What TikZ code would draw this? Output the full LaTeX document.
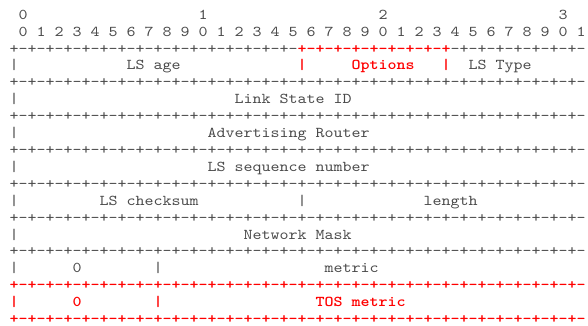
\documentclass[tikz,border=0pt]{standalone}
\usepackage{fontspec}
% Typewriter face, widened so that one character cell is 9pt at 15pt size
\newfontfamily\pktmono{lmmono10-regular}[Extension=.otf, BoldFont=lmmonolt10-bold, FakeStretch=1.1429]
\definecolor{ink}{HTML}{4A4A4A}
\definecolor{hl}{HTML}{FF0000}
\tikzset{
  cell/.style={anchor=base west, inner sep=0pt, outer sep=0pt},
  plain/.style={cell, text=ink, font=\pktmono\fontsize{15}{17}\selectfont},
  hilite/.style={cell, text=hl, font=\pktmono\bfseries\fontsize{15}{17}\selectfont},
}
% \pktseg{style}{name}{column}{line}{text}
\newcommand\pktseg[5]{\node[#1] (#2) at ({9.5+9*#3},{19.3+16.9*#4}) {#5};}
% border line, columns 0 to 63
\newcommand\pktline{+-+-+-+-+-+-+-+-+-+-+-+-+-+-+-+-+-+-+-+-+-+-+-+-+-+-+-+-+-+-+-+-}
\begin{document}
\begin{tikzpicture}[x=1pt,y=-1pt]
\useasboundingbox (0,0) rectangle (588,326);
% bit numbering
\pktseg{plain}{h0}{1}{0}{0}
\pktseg{plain}{h1}{21}{0}{1}
\pktseg{plain}{h2}{41}{0}{2}
\pktseg{plain}{h3}{61}{0}{3}
\pktseg{plain}{bits}{1}{1}{0 1 2 3 4 5 6 7 8 9 0 1 2 3 4 5 6 7 8 9 0 1 2 3 4 5 6 7 8 9 0 1}
% first word
\pktseg{plain}{b2a}{0}{2}{+-+-+-+-+-+-+-+-+-+-+-+-+-+-+-+-}
\pktseg{hilite}{b2b}{32}{2}{+-+-+-+-+-+-+-+-+}
\pktseg{plain}{b2c}{49}{2}{-+-+-+-+-+-+-+-}
\pktseg{plain}{w1l}{0}{3}{|}
\pktseg{plain}{age}{13}{3}{LS age}
\pktseg{hilite}{w1m}{32}{3}{|}
\pktseg{hilite}{opt}{38}{3}{Options}
\pktseg{hilite}{w1n}{48}{3}{|}
\pktseg{plain}{type}{51}{3}{LS Type}
\pktseg{plain}{b4}{0}{4}{\pktline}
% link state id
\pktseg{plain}{w2l}{0}{5}{|}
\pktseg{plain}{lsid}{25}{5}{Link State ID}
\pktseg{plain}{b6}{0}{6}{\pktline}
% advertising router
\pktseg{plain}{w3l}{0}{7}{|}
\pktseg{plain}{adv}{22}{7}{Advertising Router}
\pktseg{plain}{b8}{0}{8}{\pktline}
% sequence number
\pktseg{plain}{w4l}{0}{9}{|}
\pktseg{plain}{seq}{22}{9}{LS sequence number}
\pktseg{plain}{b10}{0}{10}{\pktline}
% checksum and length
\pktseg{plain}{w5l}{0}{11}{|}
\pktseg{plain}{cks}{10}{11}{LS checksum}
\pktseg{plain}{w5m}{32}{11}{|}
\pktseg{plain}{len}{46}{11}{length}
\pktseg{plain}{b12}{0}{12}{\pktline}
% network mask
\pktseg{plain}{w6l}{0}{13}{|}
\pktseg{plain}{mask}{26}{13}{Network Mask}
\pktseg{plain}{b14}{0}{14}{\pktline}
% metric
\pktseg{plain}{w7l}{0}{15}{|}
\pktseg{plain}{zero}{7}{15}{0}
\pktseg{plain}{w7m}{16}{15}{|}
\pktseg{plain}{met}{35}{15}{metric}
\pktseg{hilite}{b16}{0}{16}{\pktline}
% TOS metric
\pktseg{hilite}{w8l}{0}{17}{|}
\pktseg{hilite}{tzero}{7}{17}{0}
\pktseg{hilite}{w8m}{16}{17}{|}
\pktseg{hilite}{tmet}{34}{17}{TOS metric}
\pktseg{hilite}{b18}{0}{18}{\pktline}
\end{tikzpicture}
\end{document}
